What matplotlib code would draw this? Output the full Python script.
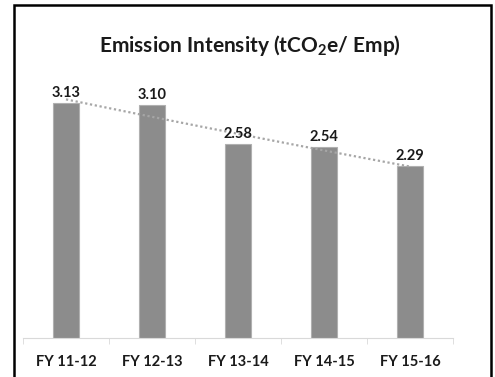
import numpy as np
import matplotlib.pyplot as plt
from matplotlib.patches import Rectangle

years = ["FY 11-12", "FY 12-13", "FY 13-14", "FY 14-15", "FY 15-16"]
intensity = [3.13, 3.10, 2.58, 2.54, 2.29]

W, H = 495, 377
plt.rcParams['font.family'] = ['Lato', 'DejaVu Sans']
plt.rcParams['mathtext.fontset'] = 'custom'
plt.rcParams['mathtext.rm'] = 'Lato:bold'
plt.rcParams['mathtext.default'] = 'rm'
fig = plt.figure(figsize=(W / 100, H / 100), dpi=100)

# outer frame (bottom edge runs past the image)
fig.patches.append(Rectangle((14 / W, -0.02), 477 / W, (H - 5) / H + 0.02,
                             transform=fig.transFigure, fill=False,
                             edgecolor='black', linewidth=1.8))

ax = fig.add_axes([23 / W, (H - 338) / H, 430 / W, 0.6963])
x = np.arange(len(years))
ax.bar(x, intensity, width=0.30, color='#8c8c8c', edgecolor='#b0b0b0', linewidth=0.8)

# polynomial trendline (order 2) like the Excel one
c = np.polyfit(x, intensity, 2)
xs = np.linspace(0, len(years) - 1, 100)
ax.plot(xs, np.polyval(c, xs), linestyle=(0, (1, 1.2)), color='#a6a6a6', linewidth=1.6)

for xi, v in zip(x, intensity):
    ax.text(xi, v + 0.04, f"{v:.2f}", ha='center', va='bottom',
            fontsize=10.5, fontweight='bold', color='#1a1a1a')

ax.set_xlim(-0.5, len(years) - 0.5)
ax.set_ylim(0, 3.5)
ax.set_yticks([])
ax.set_xticks(x)
ax.set_xticklabels(years, fontsize=10.5, fontweight='bold', color='#1a1a1a')
ax.tick_params(axis='x', length=0, pad=12)
ax.set_xticks(np.arange(len(years) + 1) - 0.5, minor=True)
ax.tick_params(axis='x', which='minor', length=4, color='#d9d9d9', direction='out')
for s in ['top', 'right', 'left']:
    ax.spines[s].set_visible(False)
ax.spines['bottom'].set_color('#d9d9d9')

fig.text(250 / W, 1 - 45 / H, "Emission Intensity (tCO$_2$e/ Emp)",
         ha='center', va='center', fontsize=15, fontweight='bold', color='#1a1a1a')

fig.savefig("out.png", dpi=100)
